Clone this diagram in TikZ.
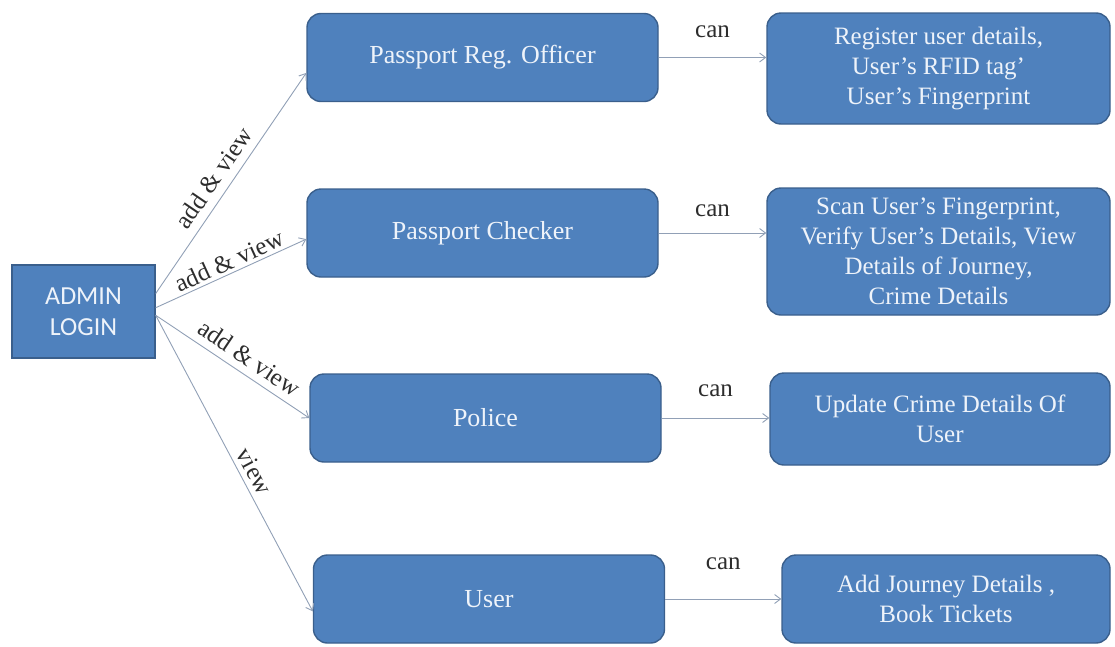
\documentclass[tikz,border=0pt]{standalone}
\usepackage{fontspec}
\setmainfont{Liberation Serif}
\newfontfamily\adminfont{Carlito}
\usetikzlibrary{arrows.meta}

\definecolor{boxblue}{RGB}{79,129,189}
\definecolor{boxline}{RGB}{58,95,140}
\definecolor{boxtext}{RGB}{238,243,250}
\definecolor{linkgray}{RGB}{145,160,182}
\definecolor{labgray}{RGB}{45,45,45}

\begin{document}
\begin{tikzpicture}
  [x=1pt,y=-1pt,
   every node/.style={fill=boxblue,draw=boxline,line width=1.4pt,text=boxtext,
     align=center,font=\fontsize{25}{30}\selectfont,inner sep=2pt},
   role/.style={rounded corners=14pt,minimum width=351pt,minimum height=88pt,
     font=\fontsize{26}{30}\selectfont},
   task/.style={rounded corners=14pt,minimum height=90pt},
   link/.style={draw=linkgray,line width=0.9pt,-{Straight Barb[length=6pt,width=9pt]}},
   lbl/.style={fill=none,draw=none,text=labgray,inner sep=3pt}]
  \useasboundingbox (0,0) rectangle (1115,646);

  \node (n0) at (83.5,311.5) [minimum width=143pt,minimum height=93pt,
    font=\adminfont\fontsize{26}{31}\selectfont] {ADMIN\\LOGIN};

  \node (n1) at (482.5,57.5) [role] {Passport Reg. Officer};
  \node (n2) at (482.5,233)  [role] {Passport Checker};
  \node (n3) at (485.5,418)  [role] {Police};
  \node (n4) at (489,599)    [role] {User};

  \node (n5) at (938.5,68.5) [task,minimum width=343pt,minimum height=111pt]
    {Register user details,\\User’s RFID tag’\\User’s Fingerprint};
  \node (n6) at (938.5,251.5) [task,minimum width=343pt,minimum height=127pt]
    {Scan User’s Fingerprint,\\Verify User’s Details, View\\Details of Journey,\\Crime Details};
  \node (n7) at (940,419) [task,minimum width=340pt,minimum height=92pt]
    {Update Crime Details Of\\User};
  \node (n8) at (946,599) [task,minimum width=328pt,minimum height=88pt]
    {Add Journey Details ,\\Book Tickets};

  \foreach \from/\to/\lab/\p/\d in {n0.14/n1.185/add \& view/0.48/5pt,
      n0.3/n2.182/add \& view/0.52/0pt,
      n0.357/n3.180/add \& view/0.55/4pt,
      n0.357/n4.184/view/0.55/2pt}
    \draw[link] (\from) -- node[lbl,sloped,pos=\p,above=\d] {\lab} (\to);

  \foreach \from/\to/\d in {n1/n5/16pt,n2/n6/13pt,n3/n7/18pt,n4/n8/26pt}
    \draw[link] (\from.east) -- node[lbl,above=\d] {can} (\from.east -| \to.west);

\end{tikzpicture}
\end{document}
